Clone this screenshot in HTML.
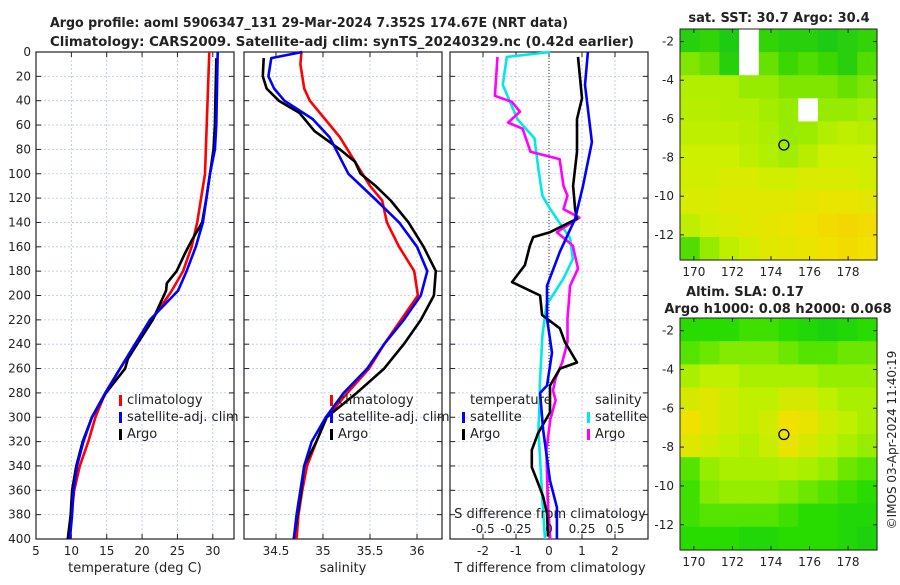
<!DOCTYPE html>
<html><head><meta charset="utf-8"><style>
body{margin:0;background:#fff;}
svg text{font-family:"DejaVu Sans","Liberation Sans",sans-serif;fill:#222;}
</style></head><body>
<svg id="fig" width="900" height="580" viewBox="0 0 900 580">
<text x="50" y="27" textLength="518" lengthAdjust="spacingAndGlyphs" font-size="13" font-weight="bold">Argo profile: aoml 5906347_131 29-Mar-2024 7.352S 174.67E (NRT data)</text>
<text x="50" y="46" textLength="584" lengthAdjust="spacingAndGlyphs" font-size="13" font-weight="bold">Climatology: CARS2009. Satellite-adj clim: synTS_20240329.nc (0.42d earlier)</text>
<g id="g"></g>
</svg>
<script>
// ---- profile data ----
const tDepthClim=[0,100,140,160,180,196,220,240,260,280,300,320,340,360,380,400];
const tClim=[29.5,28.9,27.8,27.0,25.8,24.2,21.4,19.0,16.9,14.8,13.4,12.4,11.2,10.4,10.0,9.5];
const tDepthSat=[0,60,80,100,140,160,180,196,220,240,260,280,300,320,340,360,380,400];
const tSat=[30.7,30.5,30.3,29.6,28.6,27.6,26.3,25.1,21.1,19.0,16.9,14.8,12.9,11.7,10.8,10.3,10.1,9.8];
const tDepthArgo=[5,60,80,100,120,140,155,165,180,190,196,220,240,252,260,280,300,320,340,360,380,400];
const tArgo=[30.5,30.3,30.1,29.6,29.1,28.5,27.0,26.1,24.9,23.5,23.4,21.5,19.3,18.0,17.6,14.9,12.9,11.6,10.7,10.1,9.9,9.5];

const sDepthClim=[0,10,30,40,55,70,100,110,122,140,160,180,200,220,240,260,280,300,320,340,360,380,400];
const sClim=[34.77,34.76,34.80,34.86,35.02,35.18,35.42,35.50,35.63,35.68,35.81,35.97,36.01,35.83,35.65,35.49,35.26,35.04,34.93,34.83,34.78,34.74,34.72];
const sDepthSat=[0,5,20,30,40,55,70,100,122,140,160,180,200,220,240,260,280,300,320,340,360,380,400];
const sSat=[34.78,34.45,34.42,34.48,34.59,34.89,35.07,35.27,35.57,35.81,36.00,36.11,36.04,35.86,35.65,35.47,35.22,35.03,34.88,34.80,34.76,34.72,34.69];
const sDepthArgo=[5,20,30,40,50,65,80,90,100,110,122,140,160,180,200,220,240,260,280,300,320,340,360,400];
const sArgo=[34.37,34.36,34.40,34.53,34.75,34.91,35.18,35.34,35.40,35.56,35.72,35.91,36.07,36.20,36.18,36.04,35.86,35.65,35.36,35.04,34.93,34.80,34.77,34.69];

const dDepthT=[4,38,55,82,110,129,137,148,152,159,175,189,200,216,227,238,255,260,274,296,313,327,341,352,365,379,398];
const dTArgo=[0.88,1.0,0.85,0.85,0.73,0.79,0.85,0.03,-0.48,-0.58,-0.73,-1.12,-0.27,-0.21,0.33,0.48,0.85,0.33,0.03,0.03,-0.33,-0.52,-0.52,-0.36,-0.18,-0.06,-0.03];
const dDepthTS=[0,27,74,110,137,164,192,219,247,274,280,310,352,374,400];
const dTSat=[1.18,1.09,1.3,1.03,0.79,0.33,-0.06,-0.06,0.09,-0.06,-0.27,-0.18,0.03,0.24,0.24];
const dDepthSS=[0,4,27,55,71,96,118,129,153,170,186,208,233,274,286,310,368,400];
const dSSat=[0.01,-0.32,-0.35,-0.24,-0.11,-0.08,-0.05,0.01,0.16,0.18,0.11,-0.02,-0.05,-0.07,-0.07,-0.08,-0.05,-0.03];
const dDepthSA=[4,36,41,49,58,63,82,88,110,118,129,136,148,159,178,192,219,238,255,268,278,286,302,327,368,400];
const dSArgo=[-0.39,-0.41,-0.28,-0.22,-0.31,-0.20,-0.14,0.08,0.11,0.14,0.11,0.23,0.06,0.18,0.22,0.16,0.14,0.14,0.10,0.05,0.03,0.05,0.01,-0.02,-0.01,0.01];

const tTicks=[5,10,15,20,25,30];
const sTicks=[34.5,35,35.5,36];
const dTicks=[-2,-1,0,1,2];
const dSTicks=[-0.5,-0.25,0,0.25,0.5];
const depthTicks=[0,20,40,60,80,100,120,140,160,180,200,220,240,260,280,300,320,340,360,380,400];

// ---- map data (rows north->south, cols west->east) ----
const sstGrid=[
[0.2,0.25,0.15,null,0.25,0.2,0.2,0.15,0.2,0.25],
[0.45,0.4,0.2,null,0.4,0.3,0.35,0.3,0.2,0.35],
[0.6,0.6,0.6,0.5,0.5,0.45,0.45,0.45,0.4,0.45],
[0.62,0.62,0.6,0.6,0.55,0.5,null,0.5,0.5,0.55],
[0.65,0.65,0.65,0.62,0.58,0.5,0.52,0.6,0.65,0.62],
[0.7,0.7,0.7,0.65,0.6,0.55,0.62,0.7,0.7,0.7],
[0.72,0.72,0.75,0.75,0.72,0.72,0.75,0.75,0.75,0.72],
[0.75,0.75,0.78,0.78,0.78,0.78,0.8,0.82,0.82,0.8],
[0.65,0.72,0.75,0.78,0.8,0.82,0.85,0.88,0.9,0.88],
[0.35,0.5,0.65,0.72,0.78,0.8,0.82,0.85,0.88,0.85]];
const slaGrid=[
[0.3,0.3,0.3,0.35,0.35,0.3,0.25,0.2,0.25,0.3],
[0.4,0.45,0.5,0.5,0.5,0.45,0.4,0.4,0.45,0.45],
[0.6,0.65,0.65,0.6,0.6,0.6,0.6,0.55,0.55,0.55],
[0.72,0.75,0.7,0.65,0.65,0.72,0.72,0.65,0.6,0.6],
[0.8,0.75,0.7,0.65,0.7,0.8,0.78,0.7,0.65,0.6],
[0.75,0.7,0.65,0.62,0.68,0.78,0.72,0.65,0.6,0.55],
[0.4,0.55,0.6,0.6,0.6,0.62,0.6,0.55,0.45,0.4],
[0.35,0.5,0.55,0.55,0.55,0.5,0.45,0.4,0.35,0.3],
[0.35,0.4,0.4,0.4,0.4,0.35,0.3,0.3,0.25,0.25],
[0.3,0.3,0.3,0.25,0.25,0.3,0.3,0.3,0.25,0.2]];
const lonTicks=[170,172,174,176,178];
const latTicks=[-2,-4,-6,-8,-10,-12];
const argoLon=174.67, argoLat=-7.35;

const NS='http://www.w3.org/2000/svg';
const G=document.getElementById('g');
function el(tag,attrs,parent,txt){const e=document.createElementNS(NS,tag);for(const k in attrs)e.setAttribute(k,attrs[k]);if(txt!==undefined)e.textContent=txt;(parent||G).appendChild(e);return e;}

const Y0=52,Y1=539;
const yD=d=>Y0+(Y1-Y0)*d/400;
const panels=[
 {x0:36,x1:234,lo:5,hi:33,name:'temperature'},
 {x0:244,x1:442,lo:34.16,hi:36.266,name:'salinity'},
 {x0:450,x1:648,lo:-3,hi:3,name:'difference'}];
panels.forEach(p=>{p.sx=v=>p.x0+(v-p.lo)/(p.hi-p.lo)*(p.x1-p.x0);});

function axisFrame(p,ticks,fmt){
 const g=el('g',{},G);
 
 
 ticks.forEach(t=>{const x=p.sx(t);
  const gl=el('line',{x1:x,x2:x,y1:Y0,y2:Y1,stroke:'#b8c4ee','stroke-width':0.8,'stroke-dasharray':'2,2'},g);
  
  el('line',{x1:x,x2:x,y1:Y1,y2:Y1-5,stroke:'#222'},g);el('line',{x1:x,x2:x,y1:Y0,y2:Y0+5,stroke:'#222'},g);
  const tl=el('text',{x:x,y:Y1+16,'text-anchor':'middle','font-size':12},g,fmt(t));
  
 });
 depthTicks.forEach(d=>{const y=yD(d);
  if(d>0&&d<400){const gl=el('line',{x1:p.x0,x2:p.x1,y1:y,y2:y,stroke:'#b8c4ee','stroke-width':0.8,'stroke-dasharray':'2,2'},g);
   }
  el('line',{x1:p.x0,x2:p.x0+5,y1:y,y2:y,stroke:'#222'},g);el('line',{x1:p.x1,x2:p.x1-5,y1:y,y2:y,stroke:'#222'},g);
 });
 const r=el('rect',{x:p.x0,y:Y0,width:p.x1-p.x0,height:Y1-Y0,fill:'none',stroke:'#222','stroke-width':1.2},g);
 
 return g;
}
const g1=axisFrame(panels[0],tTicks,t=>t);
const g2=axisFrame(panels[1],sTicks,t=>t);
const g3=axisFrame(panels[2],dTicks,t=>t);
depthTicks.forEach(d=>{const t=el('text',{x:31,y:yD(d)+4,'text-anchor':'end','font-size':12},G,d);
 });
{const z=el('line',{x1:panels[2].sx(0),x2:panels[2].sx(0),y1:Y0,y2:Y1,stroke:'#333','stroke-width':1,'stroke-dasharray':'1,2'},g3);
 }

function line(g,xs,ds,sx,color,name,w){
 const pts=xs.map((v,i)=>sx(v).toFixed(1)+','+yD(ds[i]).toFixed(1)).join(' ');
 const l=el('polyline',{points:pts,fill:'none',stroke:color,'stroke-width':w||2.6,'stroke-linejoin':'round'},g);
 
}
const P=panels;
line(g1,tClim,tDepthClim,P[0].sx,'#ff0000','temperature-climatology-line');
line(g1,tArgo,tDepthArgo,P[0].sx,'#000','temperature-argo-line');
line(g1,tSat,tDepthSat,P[0].sx,'#0000ff','temperature-satellite-line');
line(g2,sClim,sDepthClim,P[1].sx,'#ff0000','salinity-climatology-line');
line(g2,sArgo,sDepthArgo,P[1].sx,'#000','salinity-argo-line');
line(g2,sSat,sDepthSat,P[1].sx,'#0000ff','salinity-satellite-line');
const sS=v=>P[2].sx(v*4);
line(g3,dSSat,dDepthSS,sS,'#00e8e8','salinity-diff-satellite-line');
line(g3,dSArgo,dDepthSA,sS,'#ff00ff','salinity-diff-argo-line');
line(g3,dTArgo,dDepthT,P[2].sx,'#000','temperature-diff-argo-line');
line(g3,dTSat,dDepthTS,P[2].sx,'#0000ff','temperature-diff-satellite-line');

function legend(x,y,color,label,name){
 const g=el('g',{},G);
 if(color)el('rect',{x:x,y:y-9,width:3,height:11,fill:color},g);
 el('text',{x:x+8,y:y,'font-size':13},g,label);
}
legend(119,404,'#ff0000','climatology','legend-climatology');
legend(119,421,'#0000ff','satellite-adj. clim','legend-satellite-adj');
legend(119,438,'#000','Argo','legend-argo');
legend(330,404,'#ff0000','climatology','legend-climatology-s');
legend(330,421,'#0000ff','satellite-adj. clim','legend-satellite-adj-s');
legend(330,438,'#000','Argo','legend-argo-s');
legend(462,404,null,'temperature','legend-temperature-heading');
legend(462,421,'#0000ff','satellite','legend-t-satellite');
legend(462,438,'#000','Argo','legend-t-argo');
legend(587,404,null,'salinity','legend-salinity-heading');
legend(587,421,'#00e8e8','satellite','legend-s-satellite');
legend(587,438,'#ff00ff','Argo','legend-s-argo');
{const t=el('text',{x:550,y:518,'text-anchor':'middle','font-size':13},G,'S difference from climatology');
 
 dSTicks.forEach(s=>{const l=el('text',{x:sS(s),y:533,'text-anchor':'middle','font-size':12},G,s);
  });}
[[135,'temperature (deg C)','x-axis-title-temperature'],[343,'salinity','x-axis-title-salinity'],[550,'T difference from climatology','x-axis-title-difference']].forEach(a=>{
 const t=el('text',{x:a[0],y:572,'text-anchor':'middle','font-size':13},G,a[1]);
 });

function cmapSST(v){const stops=[[0,[0,190,40]],[0.3,[60,215,0]],[0.5,[150,235,0]],[0.7,[205,240,0]],[0.85,[240,225,0]],[1,[250,195,0]]];return interp(stops,v);}
function cmapSLA(v){const stops=[[0,[0,190,40]],[0.3,[40,220,0]],[0.5,[130,235,0]],[0.65,[190,240,0]],[0.8,[240,225,0]],[1,[250,200,0]]];return interp(stops,v);}
function interp(st,v){for(let i=1;i<st.length;i++){if(v<=st[i][0]){const a=st[i-1],b=st[i],f=(v-a[0])/(b[0]-a[0]);return 'rgb('+a[1].map((c,k)=>Math.round(c+(b[1][k]-c)*f)).join(',')+')';}}return 'rgb('+st[st.length-1][1].join(',')+')';}
function drawMap(y0,y1,grid,cmap,name){
 const x0=680,x1=877,lon0=169.28,lon1=179.5,lat0=-1.35,lat1=-13.3;
 const sx=l=>x0+(l-lon0)/(lon1-lon0)*(x1-x0);
 const sy=l=>y0+(l-lat0)/(lat1-lat0)*(y1-y0);
 const g=el('g',{},G);
 const R=grid.length,C=grid[0].length,cw=(x1-x0)/C,ch=(y1-y0)/R;
 grid.forEach((row,r)=>row.forEach((v,c)=>{
  const cell=el('rect',{x:(x0+c*cw).toFixed(1),y:(y0+r*ch).toFixed(1),width:(cw+0.6).toFixed(1),height:(ch+0.6).toFixed(1),fill:v===null?'#fff':cmap(v)},g);
  
 }));
 el('rect',{x:x0,y:y0,width:x1-x0,height:y1-y0,fill:'none',stroke:'#222','stroke-width':1},g);
 lonTicks.forEach(l=>{const x=sx(l);el('line',{x1:x,x2:x,y1:y1,y2:y1-4,stroke:'#222'},g);el('line',{x1:x,x2:x,y1:y0,y2:y0+4,stroke:'#222'},g);
  const t=el('text',{x:x,y:y1+16,'text-anchor':'middle','font-size':12},g,l);});
 latTicks.forEach(l=>{const y=sy(l);el('line',{x1:x0,x2:x0+4,y1:y,y2:y,stroke:'#222'},g);el('line',{x1:x1,x2:x1-4,y1:y,y2:y,stroke:'#222'},g);
  const t=el('text',{x:x0-6,y:y+4,'text-anchor':'end','font-size':12},g,l);});
 const m=el('circle',{cx:sx(argoLon),cy:sy(argoLat),r:5,fill:'none',stroke:'#000','stroke-width':1.3},g);
 
}
drawMap(29,260,sstGrid,cmapSST,'sst-map');
drawMap(318,550,slaGrid,cmapSLA,'sla-map');
[[779,22,'sat. SST: 30.7 Argo: 30.4','sst-map-title'],[745,296,'Altim. SLA: 0.17','sla-map-title'],[778,313,'Argo h1000: 0.08 h2000: 0.068','sla-map-subtitle']].forEach(a=>{
 const t=el('text',{x:a[0],y:a[1],'text-anchor':'middle','font-size':13,'font-weight':'bold'},G,a[2]);
 });
{const t=el('text',{x:0,y:0,'text-anchor':'middle','font-size':12,transform:'translate(896,440) rotate(-90)'},G,'©IMOS 03-Apr-2024 11:40:19');
 }
</script>
</body></html>
